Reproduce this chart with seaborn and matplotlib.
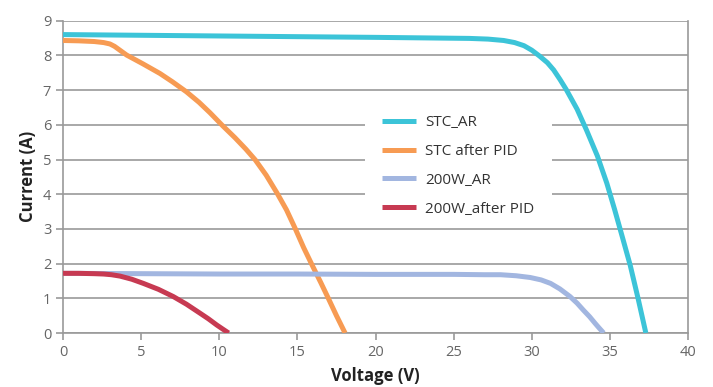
#!/usr/bin/env python3
"""I-V curves before/after PID"""

import matplotlib.pyplot as plt
from matplotlib.patches import Rectangle
import numpy as np
import pandas as pd
import seaborn as sns

# データ (読み取り値)
stc_ar_v = [0, 5, 10, 15, 20, 24, 26, 27.2, 28.2, 28.9, 29.5, 30.0, 30.5, 31.0, 31.4, 31.8, 32.2,
            32.9, 33.5, 34.2, 34.8, 35.3, 35.8, 36.3, 36.8, 37.3]
stc_ar_i = [8.60, 8.58, 8.56, 8.54, 8.52, 8.50, 8.49, 8.47, 8.43, 8.37, 8.28, 8.15, 7.98, 7.79, 7.58, 7.31, 7.02,
            6.45, 5.85, 5.10, 4.32, 3.56, 2.76, 1.95, 1.00, 0.0]

stc_pid_v = [0, 1, 2, 2.6, 3.0, 3.3, 4.07, 5.1, 6.2, 7.0, 7.9, 8.7, 9.4, 10.2, 11.0, 11.7, 12.3,
             13.0, 13.7, 14.3, 14.85, 15.4, 15.95, 16.5, 17.0, 17.5, 18.05]
stc_pid_i = [8.43, 8.42, 8.40, 8.37, 8.33, 8.26, 8.01, 7.76, 7.48, 7.24, 6.95, 6.65, 6.35, 5.98, 5.63, 5.30, 4.99,
             4.55, 4.03, 3.55, 3.02, 2.46, 1.95, 1.45, 0.98, 0.50, 0.0]

w200_ar_v = [0, 5, 10, 15, 20, 25, 27, 28.0, 29.0, 29.9, 30.6, 31.2, 31.8, 32.45, 32.9, 33.3, 33.7, 34.05, 34.3, 34.6]
w200_ar_i = [1.72, 1.71, 1.70, 1.70, 1.69, 1.69, 1.68, 1.68, 1.65, 1.60, 1.53, 1.43, 1.27, 1.05, 0.86, 0.66, 0.47, 0.28, 0.15, 0.0]

w200_pid_v = [0, 1, 2, 2.6, 3.1, 3.65, 4.4, 5.14, 6.1, 7.06, 7.9, 8.77, 9.3, 9.84, 10.2, 10.6]
w200_pid_i = [1.72, 1.72, 1.71, 1.70, 1.68, 1.64, 1.55, 1.43, 1.26, 1.05, 0.83, 0.57, 0.41, 0.23, 0.12, 0.0]

labels = ["STC_AR", "STC after PID", "200W_AR", "200W_after PID"]
colors = ["#3CC4D8", "#F79B53", "#A2B6E0", "#C73A52"]

x_ticks = [0, 5, 10, 15, 20, 25, 30, 35, 40]
y_ticks = [0, 1, 2, 3, 4, 5, 6, 7, 8, 9]

series = [(stc_ar_v, stc_ar_i), (stc_pid_v, stc_pid_i),
          (w200_ar_v, w200_ar_i), (w200_pid_v, w200_pid_i)]
frames = []
for name, (v, i) in zip(labels, series):
    frames.append(pd.DataFrame({"Voltage": v, "Current": i, "series": name}))
df = pd.concat(frames, ignore_index=True)

sns.set_theme(style="white")
plt.rcParams["font.family"] = ["Open Sans", "DejaVu Sans"]

fig = plt.figure(figsize=(7.13, 3.87), dpi=100)
ax = fig.add_axes([0.0884, 0.1395, 0.8766, 0.807])

grid_c = "#9a9a9a"
for y in y_ticks:
    ax.axhline(y, color=grid_c, lw=1.2, zorder=0)

sns.lineplot(data=df, x="Voltage", y="Current", hue="series",
             hue_order=labels, palette=colors, estimator=None, sort=False,
             linewidth=3.6, ax=ax, zorder=3,
             solid_joinstyle="round", solid_capstyle="butt")

ax.set_xlim(0, 40)
ax.set_ylim(0, 9)
ax.set_xticks(x_ticks)
ax.set_yticks(y_ticks)

for side in ["left", "bottom", "right"]:
    ax.spines[side].set_visible(True)
    ax.spines[side].set_color(grid_c)
    ax.spines[side].set_linewidth(1.2)
ax.spines["top"].set_visible(False)

ax.tick_params(axis="both", colors=grid_c, labelcolor="#666666",
               labelsize=10.5, length=5, width=1.2, direction="out",
               left=True, bottom=True)

ax.set_xlabel("Voltage (V)", fontsize=12, fontweight="bold", color="#222222", labelpad=5)
ax.set_ylabel("Current (A)", fontsize=12, fontweight="bold", color="#222222", labelpad=4)

# 凡例の白い背景
ax.add_patch(Rectangle((0.483, 0.35), 0.299, 0.37, transform=ax.transAxes,
                       facecolor="white", edgecolor="none", zorder=1))

leg = ax.legend(loc="center", bbox_to_anchor=(0.632, 0.535), frameon=False,
                fontsize=11, handlelength=2.2, handletextpad=0.6,
                labelspacing=0.9, borderpad=0.8)
for t in leg.get_texts():
    t.set_color("#333333")

fig.savefig("out.png", dpi=100)
